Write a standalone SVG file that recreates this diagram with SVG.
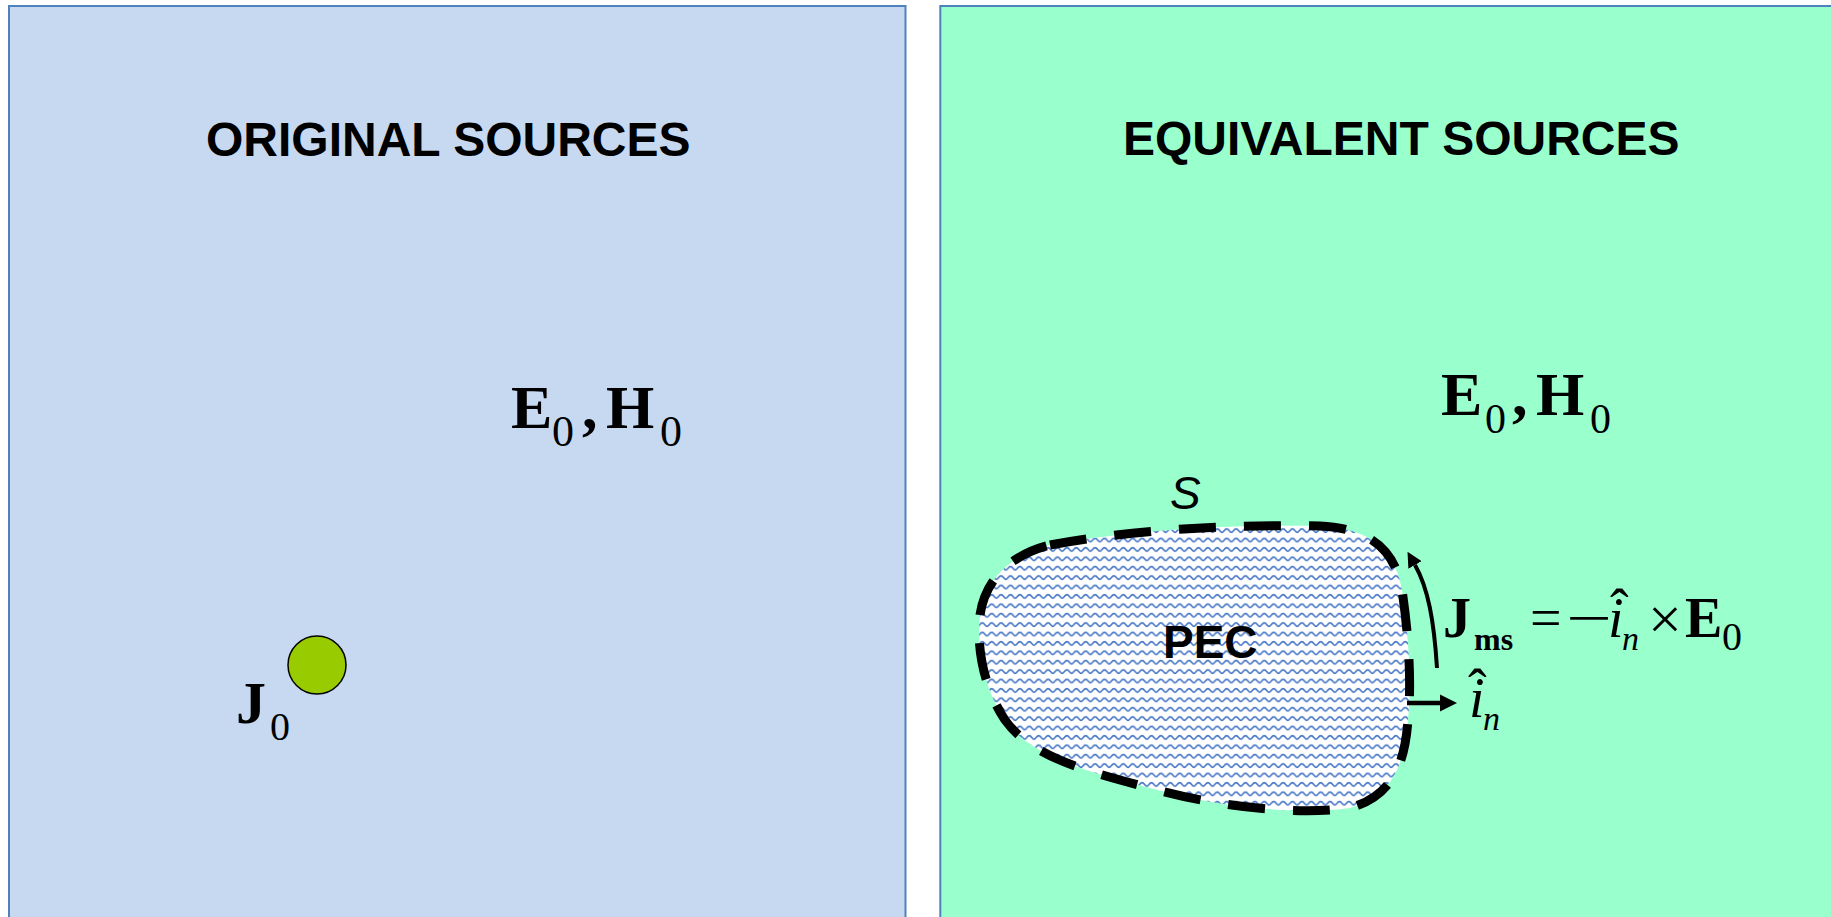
<svg xmlns="http://www.w3.org/2000/svg" width="1831" height="917" viewBox="0 0 1831 917">
<style>
.panel{stroke:#4F81BD;stroke-width:2}
.title{font-family:"Liberation Sans",Arial,sans-serif;font-weight:bold;font-size:48px;fill:#000}
.mb{font-family:"Liberation Serif","Times New Roman",serif;font-weight:bold;fill:#000}
.mr{font-family:"Liberation Serif","Times New Roman",serif;fill:#000}
.mi{font-family:"Liberation Serif","Times New Roman",serif;font-style:italic;fill:#000}
.conn{fill:none;stroke:#000}
</style>
<defs>
<pattern id="wave" patternUnits="userSpaceOnUse" width="9.4" height="9.4">
<rect width="9.4" height="9.4" fill="#FFFFFF"/>
<path d="M0,6 C1.6,6 2.6,2.4 4.7,2.4 C6.8,2.4 7.8,6 9.4,6" fill="none" stroke="#4676C6" stroke-width="1.6"/>
</pattern>
<marker id="ah" viewBox="0 0 10 10" refX="0" refY="5" markerWidth="3.8" markerHeight="3.8" orient="auto" markerUnits="strokeWidth">
<path d="M0,0 L10,5 L0,10 Z" fill="#000"/>
</marker>
</defs>
<rect width="1831" height="917" fill="#FFFFFF"/>

<g id="left-panel">
<rect class="panel" x="9" y="6" width="896.5" height="930" fill="#C6D9F1"/>
<text class="title" x="206" y="156">ORIGINAL SOURCES</text>
<g id="fields-left">
<text class="mb" x="511" y="428" font-size="62">E</text>
<text class="mr" x="552" y="446" font-size="44">0</text>
<text class="mb" x="582" y="428" font-size="62">,</text>
<text class="mb" x="606" y="428" font-size="62">H</text>
<text class="mr" x="660" y="446" font-size="44">0</text>
</g>
</g>

<g id="source-J0">
<circle cx="317" cy="665" r="29" fill="#99CC00" stroke="#000" stroke-width="1.5"/>
<text class="mb" x="236" y="723" font-size="60">J</text>
<text class="mr" x="270" y="740" font-size="40">0</text>
</g>

<g id="right-panel">
<rect class="panel" x="940.3" y="6" width="910" height="930" fill="#99FFCC"/>
<text class="title" x="1123" y="155">EQUIVALENT SOURCES</text>
<g id="fields-right">
<text class="mb" x="1441" y="415" font-size="62">E</text>
<text class="mr" x="1485" y="433" font-size="42">0</text>
<text class="mb" x="1512" y="415" font-size="62">,</text>
<text class="mb" x="1536" y="415" font-size="62">H</text>
<text class="mr" x="1590" y="433" font-size="42">0</text>
</g>
</g>

<g id="pec">
<path d="M1050,545 C1130,530 1230,524 1320,526 C1370,528 1395,550 1402,590 C1408,630 1412,680 1408,720 C1405,760 1395,795 1350,808 C1300,815 1220,808 1150,788 C1080,770 1030,755 1005,720 C985,690 976,650 980,615 C985,580 1010,555 1050,545 Z" fill="url(#wave)" stroke="#000" stroke-width="9" stroke-dasharray="37 28"/>
<text class="title" x="1163" y="658" style="font-size:46px">PEC</text>
<text x="1170" y="509" font-family="Liberation Sans, Arial, sans-serif" font-style="italic" font-size="46">S</text>
</g>

<g id="jms-label">
<text class="mb" x="1443" y="637" font-size="56">J</text>
<text class="mb" x="1474" y="650" font-size="32">ms</text>
<text class="mr" x="1530" y="637" font-size="56">=</text>
<text class="mr" x="0" y="0" font-size="56" transform="translate(1566,637) scale(1.45,1)">−</text>
<text class="mi" x="1608" y="637" font-size="56">i</text>
<text class="mr" x="1610" y="628" font-size="56">ˆ</text>
<text class="mi" x="1622" y="650" font-size="34">n</text>
<text class="mr" x="1648" y="639" font-size="60">×</text>
<text class="mb" x="1685" y="637" font-size="56">E</text>
<text class="mr" x="1722" y="650" font-size="40">0</text>
</g>

<g id="normal-label">
<text class="mi" x="1469" y="717" font-size="56">i</text>
<text class="mr" x="1468" y="708" font-size="56">ˆ</text>
<text class="mi" x="1483" y="730" font-size="34">n</text>
</g>

<g id="connectors">
<path class="conn" d="M1437,668 C1434,620 1428,588 1415,565" stroke-width="4" marker-end="url(#ah)"/>
<path class="conn" d="M1407,703 L1440,703" stroke-width="4.5" marker-end="url(#ah)"/>
</g>
</svg>
